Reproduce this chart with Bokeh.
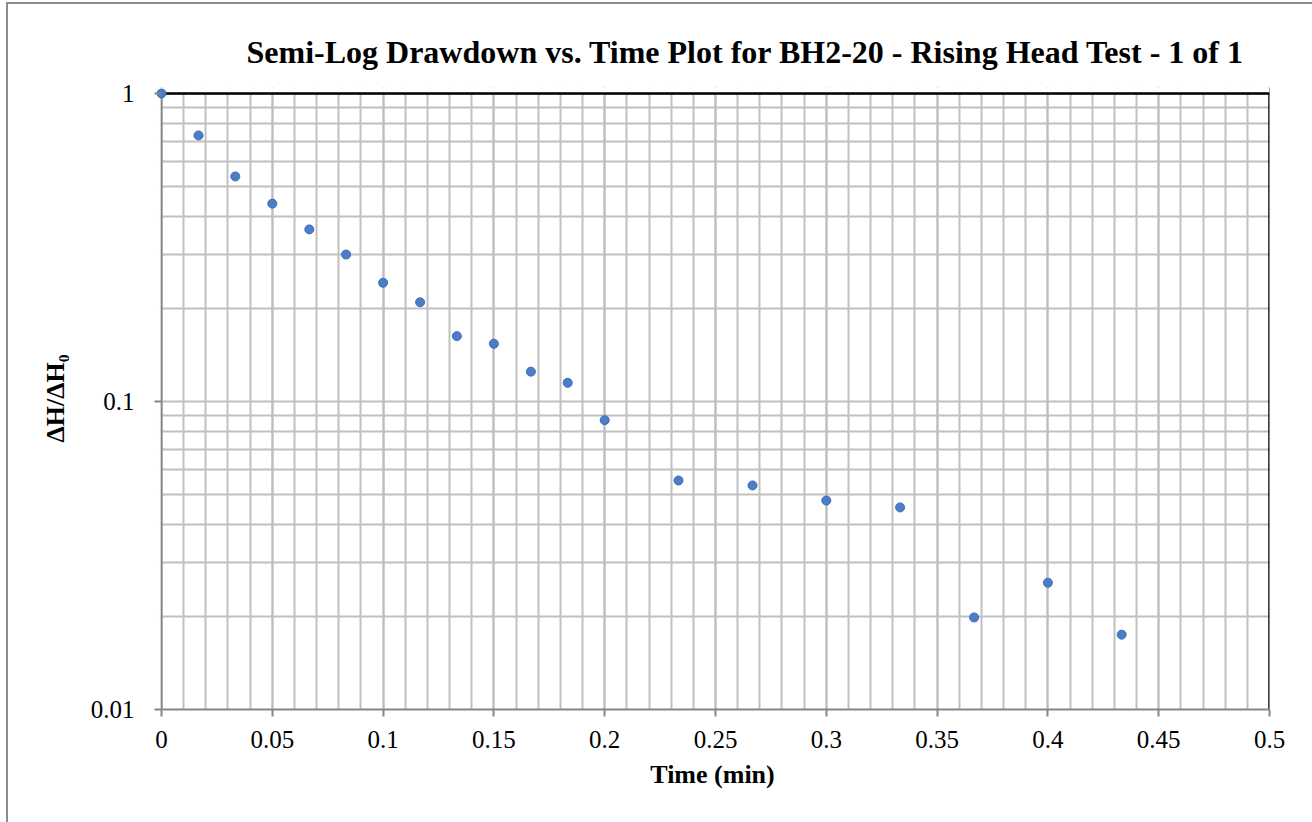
from bokeh.plotting import figure
from bokeh.models import Range1d, FixedTicker, CustomJSTickFormatter, Span, BoxAnnotation, ColumnDataSource
from bokeh.embed import file_html
from bokeh.resources import INLINE

# ---- data ----
time_min = [0.0, 0.0167, 0.0333, 0.05, 0.0667, 0.0833, 0.1, 0.1167, 0.1333, 0.15,
            0.1667, 0.1833, 0.2, 0.2333, 0.2667, 0.3, 0.3333, 0.3667, 0.4, 0.4333]
head_ratio = [1.0, 0.731, 0.538, 0.439, 0.362, 0.300, 0.243, 0.210, 0.163, 0.154,
              0.125, 0.115, 0.087, 0.0554, 0.0534, 0.0477, 0.0453, 0.0199, 0.0258, 0.0175]

x_ticks = [0, 0.05, 0.1, 0.15, 0.2, 0.25, 0.3, 0.35, 0.4, 0.45, 0.5]
x_minor = [round(i * 0.01, 2) for i in range(0, 51)]
y_ticks = [0.01, 0.1, 1]
y_minor = [round(k * 10.0 ** d, 4) for d in (-2, -1) for k in range(2, 10)]

title_text = "Semi-Log Drawdown vs. Time Plot for BH2-20 - Rising Head Test - 1 of 1"
x_label = "Time (min)"
y_label = "ΔH/ΔH₀"

FONT = "Liberation Serif"
GRID = "#c0c0c0"
AXIS = "#868686"
FRAME = "#8c8c8c"

# small padding (px) left/top of the data area so the first marker is not clipped
PAD = 6
X0, X1 = 0.0, 0.5
Y0, Y1 = 0.01, 1.0
plot_w, plot_h = 1108, 616
px_x = (X1 - X0) / plot_w
x_pad = PAD * px_x
y_top = Y1 * 10 ** (2 * PAD / plot_h)

p = figure(width=1312, height=822, output_backend="svg", toolbar_location=None,
           x_range=Range1d(X0 - x_pad, X1), y_range=Range1d(Y0, y_top), y_axis_type="log",
           min_border_left=161 - PAD, min_border_right=43, min_border_top=93 - PAD, min_border_bottom=113,
           outline_line_color=None, background_fill_color="white", border_fill_color=None,
           styles={
               "background-color": "white",
               "background-image": f"linear-gradient({FRAME},{FRAME}), linear-gradient({FRAME},{FRAME})",
               "background-size": "2px 100%, 100% 2px",
               "background-position": "6px 2px, 6px 2px",
               "background-repeat": "no-repeat",
           })

src = ColumnDataSource(dict(t=time_min, r=head_ratio))

# x axis
p.xaxis.ticker = FixedTicker(ticks=x_ticks, minor_ticks=x_minor)
p.xaxis.formatter = CustomJSTickFormatter(code="return tick.toString()")
p.xaxis.axis_label = x_label
p.xaxis.bounds = (X0, X1)
# y axis
p.yaxis.ticker = FixedTicker(ticks=y_ticks, minor_ticks=y_minor)
p.yaxis.formatter = CustomJSTickFormatter(code="return tick.toString()")
p.yaxis.axis_label = y_label
p.yaxis.bounds = (Y0, Y1)

for ax in (p.xaxis, p.yaxis):
    ax.axis_line_color = AXIS
    ax.axis_line_width = 2
    ax.major_tick_line_color = AXIS
    ax.major_tick_line_width = 2
    ax.major_tick_out = 7
    ax.major_tick_in = 0
    ax.minor_tick_out = 0
    ax.minor_tick_in = 0
    ax.major_label_text_font = FONT
    ax.major_label_text_font_size = "25px"
    ax.major_label_text_color = "black"
    ax.axis_label_text_font = FONT
    ax.axis_label_text_font_size = "26px"
    ax.axis_label_text_font_style = "bold"
    ax.axis_label_text_color = "black"

p.xaxis.major_label_standoff = 14
p.xaxis.axis_label_standoff = 9
# y axis sits at the padded frame edge; its visible line is drawn at x=0 below
p.yaxis.axis_line_color = None
p.yaxis.major_tick_out = 1
p.yaxis.major_tick_in = PAD
p.yaxis.major_label_standoff = 20
p.yaxis.axis_label_standoff = 18

# grids
p.xgrid.ticker = FixedTicker(ticks=x_ticks, minor_ticks=x_minor)
p.ygrid.ticker = FixedTicker(ticks=y_ticks, minor_ticks=y_minor)
for g in (p.xgrid, p.ygrid):
    g.grid_line_color = GRID
    g.grid_line_width = 2
    g.minor_grid_line_color = GRID
    g.minor_grid_line_width = 2

# plot-area border: gray left axis line, black top/right lines; blank padding strips
p.add_layout(Span(location=X0, dimension="height", line_color=AXIS, line_width=2, level="underlay"))
p.add_layout(Span(location=X1, dimension="height", line_color="black", line_width=2.5, level="underlay"))
p.add_layout(BoxAnnotation(bottom=Y1, fill_color="white", fill_alpha=1, line_color=None, level="underlay"))
p.add_layout(Span(location=Y1, dimension="width", line_color="black", line_width=2.5, level="underlay"))
p.add_layout(BoxAnnotation(right=X0 - px_x, fill_color="white", fill_alpha=1, line_color=None, level="underlay"))

p.scatter("t", "r", source=src, size=9, fill_color="#4a7ec8", line_color="#3c6db3", line_width=1)

p.title.text = title_text
p.title.text_font = FONT
p.title.text_font_size = "32px"
p.title.text_font_style = "bold"
p.title.text_color = "black"
p.title.align = "left"
p.title.offset = 246 - (161 - PAD)
p.title.standoff = 36

open("out.html", "w").write(file_html(p, INLINE))
